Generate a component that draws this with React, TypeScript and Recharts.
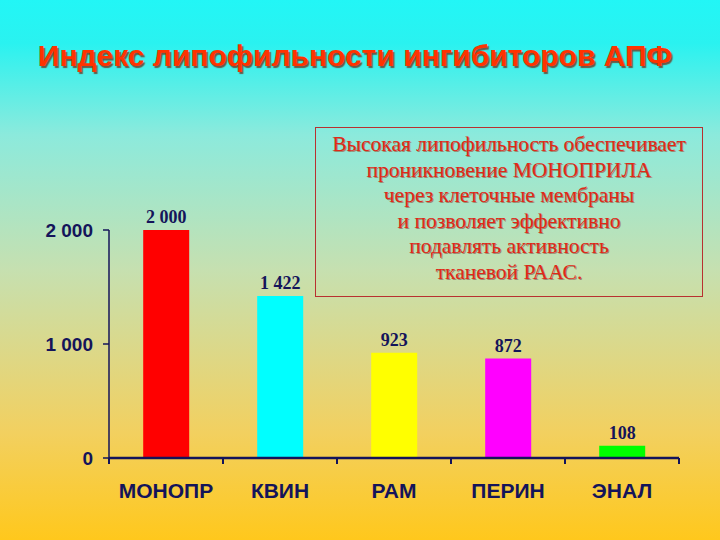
import React from 'react';
import { BarChart, Bar, XAxis, YAxis, Cell, LabelList } from 'recharts';

const categories = ['МОНОПР', 'КВИН', 'РАМ', 'ПЕРИН', 'ЭНАЛ'];
const values = [2000, 1422, 923, 872, 108];
const barColors = ['#ff0000', '#00ffff', '#ffff00', '#ff00ff', '#00ff00'];
const yTicks = [0, 1000, 2000];

const title = 'Индекс липофильности ингибиторов АПФ';
const noteLines = [
    'Высокая липофильность обеспечивает',
    'проникновение МОНОПРИЛА',
    'через клеточные мембраны',
    'и позволяет эффективно',
    'подавлять активность',
    'тканевой РААС.',
];

const data = categories.map((name, i) => ({ name, value: values[i] }));

const NAVY = '#14145a';

// "2000" -> "2 000"
const fmt = (v: number | string) => String(v).replace(/\B(?=(\d{3})+(?!\d))/g, ' ');

const CategoryTick = (props: any) => {
    const { x, y, payload, index } = props;
    const off = payload.offset || 0;
    return (
        <g>
            <line x1={x - off} y1={y} x2={x - off} y2={y + 6} stroke={NAVY} strokeWidth={2} />
            {index === categories.length - 1 && (
                <line x1={x + off} y1={y} x2={x + off} y2={y + 6} stroke={NAVY} strokeWidth={2} />
            )}
            <text
                x={x}
                y={y + 40}
                textAnchor="middle"
                fill={NAVY}
                style={{ fontFamily: '"Liberation Sans", Arial, sans-serif', fontWeight: 'bold', fontSize: 21 }}
            >
                {payload.value}
            </text>
        </g>
    );
};

export default function App() {
    return (
        <div
            style={{
                position: 'absolute',
                left: 0,
                top: 0,
                width: 720,
                height: 540,
                overflow: 'hidden',
                background: 'linear-gradient(to bottom, #22f6f6 0%, #2af2f0 8%, #8ceadc 25%, #c6e0b0 50%, #f2d060 80%, #ffc81c 100%)',
            }}
        >
            <div
                style={{
                    position: 'absolute',
                    left: 0,
                    top: 39,
                    width: 710,
                    textAlign: 'center',
                    fontFamily: '"Liberation Sans", Arial, sans-serif',
                    fontWeight: 'bold',
                    fontSize: 30,
                    color: '#ff3300',
                    textShadow: '1.5px 1.5px 1px #6a5a48',
                }}
            >
                {title}
            </div>

            <BarChart
                width={720}
                height={540}
                data={data}
                margin={{ top: 230, right: 41, bottom: 32, left: 0 }}
                barCategoryGap="30%"
            >
                <YAxis
                    type="number"
                    domain={[0, 2000]}
                    ticks={yTicks}
                    width={109}
                    tickFormatter={fmt}
                    tickSize={6}
                    tickMargin={10}
                    axisLine={{ stroke: NAVY, strokeWidth: 1.5 }}
                    tickLine={{ stroke: NAVY, strokeWidth: 1.5 }}
                    tick={{ fill: NAVY, fontSize: 19, fontWeight: 'bold', fontFamily: '"Liberation Sans", Arial, sans-serif' }}
                />
                <XAxis
                    dataKey="name"
                    height={50}
                    tickSize={0}
                    tickMargin={0}
                    tickLine={false}
                    axisLine={{ stroke: NAVY, strokeWidth: 2.5 }}
                    tick={<CategoryTick />}
                    interval={0}
                />
                <Bar dataKey="value" isAnimationActive={false}>
                    {data.map((d, i) => (
                        <Cell key={d.name} fill={barColors[i]} />
                    ))}
                    <LabelList
                        dataKey="value"
                        position="top"
                        offset={7}
                        formatter={fmt}
                        fill={NAVY}
                        style={{ fontFamily: '"Liberation Serif", "Times New Roman", serif', fontWeight: 'bold', fontSize: 18 }}
                    />
                </Bar>
            </BarChart>

            <div
                style={{
                    position: 'absolute',
                    left: 315,
                    top: 127,
                    width: 386,
                    height: 164,
                    border: '1px solid #b83030',
                    boxSizing: 'content-box',
                    textAlign: 'center',
                    fontFamily: '"Liberation Serif", "Times New Roman", serif',
                    fontSize: 21.5,
                    lineHeight: '25.5px',
                    paddingTop: 4,
                    color: '#e02818',
                    textShadow: '1px 1px 0px #9a8a70',
                    whiteSpace: 'nowrap',
                }}
            >
                {noteLines.map((l) => (
                    <div key={l}>{l}</div>
                ))}
            </div>
        </div>
    );
}
